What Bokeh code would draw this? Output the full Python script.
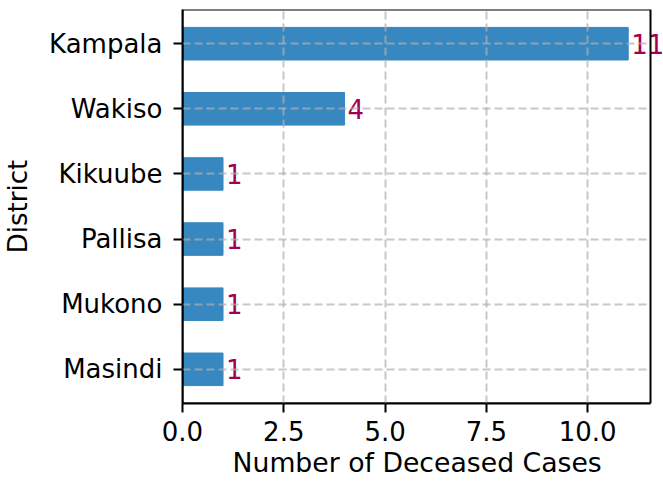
from bokeh.plotting import figure
from bokeh.models import ColumnDataSource, Range1d, FixedTicker, Label, BoxAnnotation, Title
from bokeh.embed import file_html
from bokeh.resources import INLINE

districts = ["Kampala", "Wakiso", "Kikuube", "Pallisa", "Mukono", "Masindi"]
deceased = [11, 4, 1, 1, 1, 1]
x_ticks = [0, 2.5, 5, 7.5, 10]
x_tick_labels = ["0.0", "2.5", "5.0", "7.5", "10.0"]
x_title = "Number of Deceased Cases"
y_title = "District"

n = len(districts)
ypos = [n - 1 - i for i in range(n)]
src = ColumnDataSource(dict(y=ypos, v=deceased, name=districts))

FONT = "DejaVu Sans"
FS = "26px"
AX_W = 468          # width of the drawn axes box
FRAME_W = 482       # frame extends a bit to leave room for the value label
x_max = max(deceased) * 1.05
y_lo, y_hi = -0.525, n - 1 + 0.525

p = figure(frame_width=FRAME_W, frame_height=394, output_backend="svg", toolbar_location=None,
           x_range=Range1d(0, x_max * FRAME_W / AX_W), y_range=Range1d(y_lo, y_hi),
           min_border_left=181, min_border_right=0, min_border_top=9, min_border_bottom=80)
p.title.visible = False
p.outline_line_color = None

p.hbar(y="y", right="v", left=0, height=0.5, source=src, color="#3787c0")

for g in (p.xgrid[0], p.ygrid[0]):
    g.grid_line_color = "#b0b0b0"
    g.grid_line_alpha = 0.7
    g.grid_line_dash = "8 4"
    g.grid_line_width = 2
    g.level = "overlay"
p.ygrid.ticker = FixedTicker(ticks=ypos)
p.xgrid.ticker = FixedTicker(ticks=x_ticks)
p.ygrid.cross_bounds = (0, x_max)

p.add_layout(BoxAnnotation(left=0, right=x_max, bottom=y_lo, top=y_hi, fill_alpha=0,
                           line_color="black", line_width=2, line_alpha=1, level="overlay"))

for yv, dv in zip(ypos, deceased):
    p.add_layout(Label(x=dv, y=yv, text=str(dv), x_offset=3, text_baseline="middle",
                       text_color="#a2004f", text_font=FONT, text_font_size=FS))

p.xaxis.ticker = FixedTicker(ticks=x_ticks)
p.xaxis.major_label_overrides = {t: l for t, l in zip(x_ticks, x_tick_labels)}
p.xaxis.bounds = (0, x_max)
p.yaxis.ticker = FixedTicker(ticks=ypos)
p.yaxis.major_label_overrides = {y: d for y, d in zip(ypos, districts)}

for ax in (p.xaxis[0], p.yaxis[0]):
    ax.axis_line_width = 2
    ax.axis_line_color = "black"
    ax.major_tick_line_width = 2
    ax.major_tick_line_color = "black"
    ax.major_tick_out = 9
    ax.major_tick_in = 0
    ax.minor_tick_line_color = None
    ax.major_label_text_font = FONT
    ax.major_label_text_font_size = FS
    ax.major_label_text_color = "black"
    ax.axis_label_text_font = FONT
    ax.axis_label_text_font_size = FS
    ax.axis_label_text_font_style = "normal"
    ax.axis_label_text_color = "black"

p.xaxis.major_label_standoff = 8
p.yaxis.major_label_standoff = 11
p.yaxis.axis_label = y_title
p.yaxis.axis_label_standoff = 13

# x-axis title centred under the drawn axes box (not the wider frame)
p.add_layout(Title(text=x_title, align="left", offset=50, standoff=6, text_font=FONT,
                   text_font_size="26.7px", text_font_style="normal", text_color="black",
                   vertical_align="top"), "below")

open("out.html", "w").write(file_html(p, INLINE))
